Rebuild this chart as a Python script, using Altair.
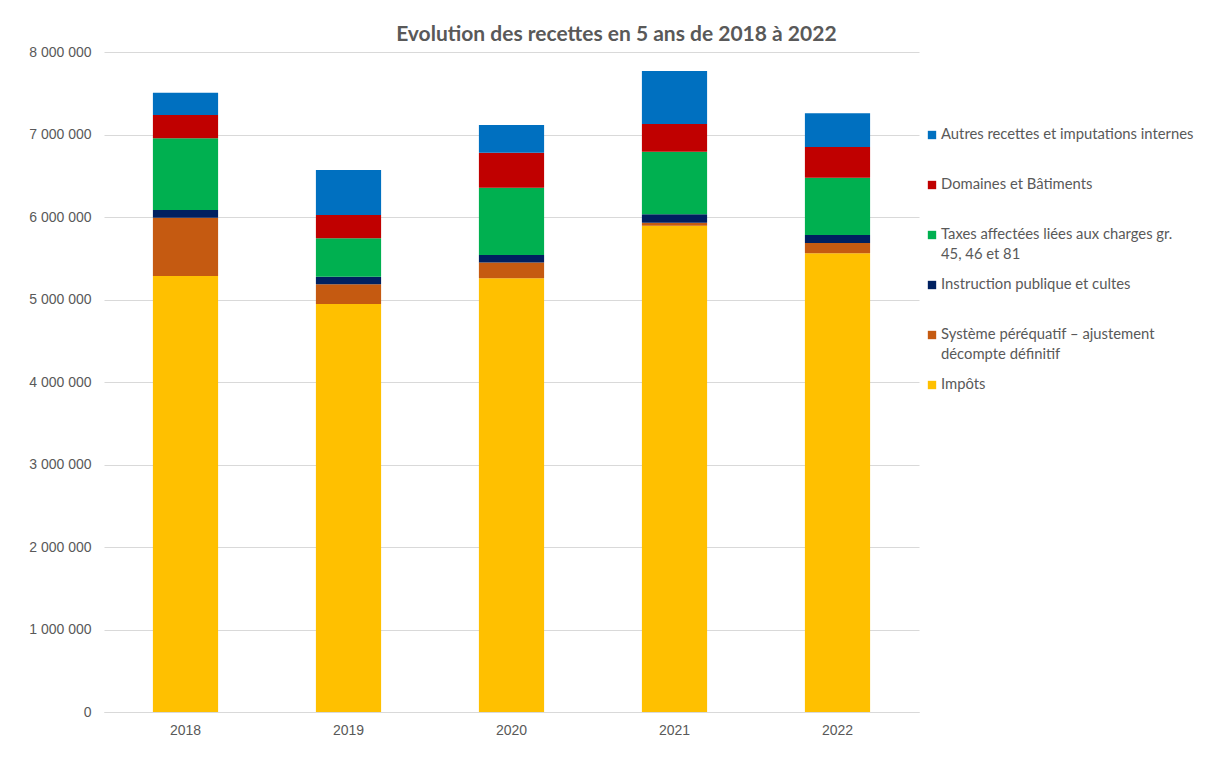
import altair as alt
import pandas as pd

years = ["2018", "2019", "2020", "2021", "2022"]
categories = [
    "Impôts",
    "Système péréquatif – ajustement décompte définitif",
    "Instruction publique et cultes",
    "Taxes affectées liées aux charges gr. 45, 46 et 81",
    "Domaines et Bâtiments",
    "Autres recettes et imputations internes",
]
legend_labels = [
    "Impôts",
    "Système péréquatif – ajustement\ndécompte définitif",
    "Instruction publique et cultes",
    "Taxes affectées liées aux charges gr.\n45, 46 et 81",
    "Domaines et Bâtiments",
    "Autres recettes et imputations internes",
]
colors = ["#FFC000", "#C55A11", "#002060", "#00B050", "#C00000", "#0070C0"]

impots = [5285000, 4945000, 5257000, 5895000, 5560000]
systeme = [707000, 239000, 193000, 36000, 125000]
instruction = [93000, 93000, 89000, 101000, 97000]
taxes = [869000, 464000, 816000, 760000, 694000]
domaines = [282000, 283000, 425000, 335000, 372000]
autres = [271000, 546000, 335000, 643000, 409000]
series = [impots, systeme, instruction, taxes, domaines, autres]

y_ticks = [0, 1000000, 2000000, 3000000, 4000000, 5000000, 6000000, 7000000, 8000000]

rows = []
for ci, (cat, vals) in enumerate(zip(categories, series)):
    for yr, v in zip(years, vals):
        rows.append({"annee": yr, "categorie": cat, "valeur": v, "ordre": ci})
df = pd.DataFrame(rows)

legend_order = list(reversed(categories))
legend_df = pd.DataFrame({
    "categorie": legend_order,
    "label": list(reversed(legend_labels)),
})

color_scale = alt.Scale(domain=legend_order, range=list(reversed(colors)))
grey = "#595959"

bars = alt.Chart(df).mark_bar().encode(
    x=alt.X("annee:N", title=None,
            scale=alt.Scale(paddingInner=0.6, paddingOuter=0.3),
            axis=alt.Axis(labelAngle=0, ticks=False, domainColor="#d9d9d9",
                          labelColor=grey, labelFontSize=14, labelFont="Liberation Sans",
                          labelPadding=11)),
    y=alt.Y("sum(valeur):Q", title=None, stack="zero",
            scale=alt.Scale(domain=[0, 8000000], nice=False),
            axis=alt.Axis(values=y_ticks, ticks=False, domain=False, gridColor="#d9d9d9",
                          labelColor=grey, labelFontSize=14, labelFont="Liberation Sans",
                          labelPadding=13,
                          labelExpr="replace(format(datum.value, ','), /,/g, ' ')")),
    color=alt.Color("categorie:N", scale=color_scale, legend=None),
    order=alt.Order("ordre:Q", sort="ascending"),
).properties(width=815, height=660)

leg_y = alt.Y("categorie:N", sort=legend_order, axis=None, title=None,
              scale=alt.Scale(paddingInner=0, paddingOuter=0, range=[58, 358]))

leg_sq = alt.Chart(legend_df).mark_square(size=70, opacity=1).encode(
    x=alt.value(8),
    y=leg_y,
    color=alt.Color("categorie:N", scale=color_scale, legend=None),
)
leg_tx = alt.Chart(legend_df).mark_text(
    align="left", baseline="top", dy=-8, lineBreak="\n", lineHeight=19.5,
    font="Lato", fontSize=14.8, color=grey,
).encode(
    x=alt.value(17),
    y=leg_y,
    text="label:N",
)
legend = alt.layer(leg_sq, leg_tx).properties(width=280, height=660)

chart = alt.hconcat(bars, legend, spacing=5).properties(
    title=alt.TitleParams("Evolution des recettes en 5 ans de 2018 à 2022",
                          font="Lato", fontSize=21, fontWeight="bold", color=grey,
                          anchor="middle", offset=0),
    padding={"left": 20, "top": 16, "right": 5, "bottom": 5},
).configure_view(stroke=None)

chart.save("out.html", embed_options={"renderer": "svg", "actions": False})
